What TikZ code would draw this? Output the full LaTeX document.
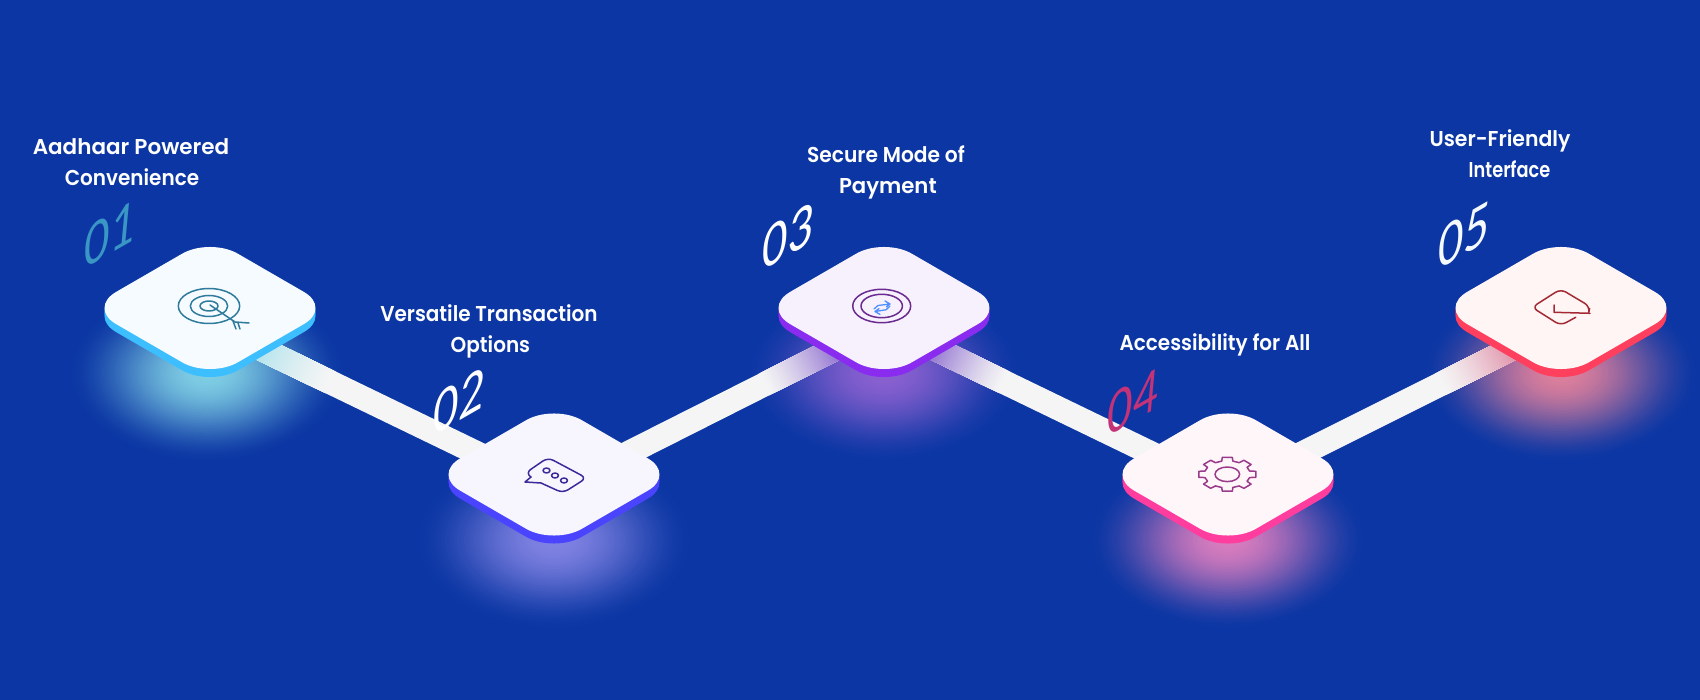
\documentclass[tikz,border=0pt]{standalone}
\usepackage{fontspec}
\usepackage{graphicx}
\usetikzlibrary{calc}
\newfontfamily\labfont{Poppins SemiBold}
\newfontfamily\numfont{Carlito}
\definecolor{bgc}{HTML}{0B36A4}
\definecolor{stripc}{HTML}{F5F5F5}
\definecolor{glowA}{HTML}{7FCEE4}
\definecolor{glowB}{HTML}{8082E2}
\definecolor{glowC}{HTML}{8A60D0}
\definecolor{glowD}{HTML}{D87CBE}
\definecolor{glowE}{HTML}{DD7F9C}
\definecolor{tintA}{HTML}{B0E3EC}
\definecolor{tintC}{HTML}{8F70D0}
\definecolor{tintE}{HTML}{DF90A8}
% soft glow as nested ellipses, from the outside in
\newcommand{\glow}[3]{%
  \foreach \i in {60,59,...,1}{%
    \pgfmathsetmacro{\tt}{\i/60}%
    \pgfmathsetmacro{\pc}{100*(1-\tt*\tt)*(1-\tt*\tt)}%
    \fill[color=#3!\pc!bgc] (#1,#2) ellipse ({142*\tt} and {92*\tt});}}
% tint of a connector near a pad: far to near, each piece reaching the pad
\newcommand{\tintstrip}[3]{%
  \foreach \i in {0,1,...,30}{%
    \pgfmathsetmacro{\dd}{135-2.7*\i}%
    \pgfmathsetmacro{\pc}{100*(\i/30)^1.3}%
    \draw[strip,draw=#3!\pc!stripc] ($(#1)!\dd pt!(#2)$) -- (#1);}}
\newcommand{\padpath}[3]{(#1-121.7,#2+#3) -- (#1,#2+#3-70.4) -- (#1+121.7,#2+#3) -- (#1,#2+#3+70.4) -- cycle}
\newcommand{\drawpad}[4]{%
  \foreach \o in {8,6,4,2}{\fill[padshape,#3] \padpath{#1}{#2}{\o};}
  \fill[padshape,#4] \padpath{#1}{#2}{0};}
\tikzset{
  padshape/.style={rounded corners=32pt},
  strip/.style={draw=stripc,line width=24pt,line cap=butt},
  label/.style={text=white,font=\labfont\fontsize{21.5}{31}\selectfont,align=center,inner sep=0pt},
  num/.style={font=\numfont\itshape\fontsize{62}{62}\selectfont,inner sep=0pt,xscale=.8,yslant=.46},
  icon/.style={line width=1.5pt,line join=round,line cap=round,fill=none}
}
\begin{document}
\begin{tikzpicture}[x=1pt,y=-1pt]
\useasboundingbox (0,0) rectangle (1700,700);
\fill[bgc] (0,0) rectangle (1700,700);
% anchors of the connectors
\coordinate (a1) at (210,324);
\coordinate (a2) at (554,490.5);
\coordinate (a3) at (884,324);
\coordinate (a4) at (1228,490.5);
\coordinate (a5) at (1561,324);
% glows
\glow{207}{373}{glowA}
\glow{554}{540}{glowB}
\glow{884}{373}{glowC}
\glow{1228}{540}{glowD}
\glow{1561}{373}{glowE}
% connectors
\draw[strip] (a1) -- (a2);
\draw[strip] (a2) -- (a3);
\draw[strip] (a3) -- (a4);
\draw[strip] (a4) -- (a5);
\tintstrip{a1}{a2}{tintA}
\tintstrip{a3}{a2}{tintC}
\tintstrip{a3}{a4}{tintC}
\tintstrip{a5}{a4}{tintE}
% pads
\drawpad{210}{308}{fill={rgb,255:red,61;green,190;blue,255}}{fill={rgb,255:red,246;green,251;blue,255}}
\drawpad{554}{474.5}{fill={rgb,255:red,75;green,68;blue,255}}{fill={rgb,255:red,247;green,246;blue,255}}
\drawpad{884}{308}{fill={rgb,255:red,138;green,43;blue,240}}{fill={rgb,255:red,246;green,241;blue,252}}
\drawpad{1228}{474.5}{fill={rgb,255:red,255;green,61;blue,159}}{fill={rgb,255:red,255;green,246;blue,250}}
\drawpad{1561}{308}{fill={rgb,255:red,255;green,63;blue,94}}{fill={rgb,255:red,255;green,245;blue,244}}
% icon 1: target
\definecolor{icA}{HTML}{2F7B9C}
\begin{scope}[icon,draw=icA]
  \draw (209,306) ellipse (30.7 and 17.5);
  \draw (209,306) ellipse (18.7 and 10.5);
  \draw (209,306) ellipse (9 and 5);
  \draw (210,305) -- (235,322) -- (249,323);
  \draw (233,321) -- (236,329);
  \draw (238,323) -- (240,329);
\end{scope}
% icon 2: chat bubble
\definecolor{icB}{HTML}{3A2A9A}
\begin{scope}[icon,draw=icB]
  \draw[rounded corners=6pt] (531,477) -- (525.5,473) -- (548,457.5) -- (586.5,478) -- (563,493) -- (541,483);
  \draw (531,477) -- (525,482) -- (541,483);
  \draw (546.5,470.5) ellipse (3.5 and 2.5);
  \draw (555,475.5) ellipse (3.5 and 2.5);
  \draw (564,480.5) ellipse (3.5 and 2.5);
\end{scope}
% icon 3: circles with arrows
\definecolor{icC}{HTML}{6A2A90}
\definecolor{icCb}{HTML}{4F8FFF}
\begin{scope}[icon,draw=icC]
  \draw (881.7,306) ellipse (29 and 16.7);
  \draw (881.7,306) ellipse (20.7 and 11.7);
\end{scope}
\begin{scope}[icon,draw=icCb,line width=1.3pt]
  \draw (874,309) -- (878,305.5) -- (890,304) (885,301) -- (890,304) -- (886.5,306.8);
  \draw (890,306) -- (886,309.8) -- (875,311.5) (879,308.6) -- (875,311.5) -- (880,314.4);
\end{scope}
% icon 4: gear
\definecolor{icD}{HTML}{9A3A8A}
\begin{scope}[icon,draw=icD]
  \draw (1227.3,474.3) ellipse (12.3 and 7.3);
  \begin{scope}[shift={(1227.3,474.3)},yscale=.59]
    \draw (-14:23) \foreach \a in {0,45,...,315}{ -- (\a-14:23) -- (\a-10:29) -- (\a+10:29) -- (\a+14:23)} -- cycle;
  \end{scope}
\end{scope}
% icon 5: open envelope with tick
\definecolor{icE}{HTML}{A32A35}
\begin{scope}[icon,draw=icE]
  \draw[rounded corners=6pt] (1575.7,317.3) -- (1560.7,325.5) -- (1532,307.3) -- (1560.7,289) -- (1590,306.5) -- (1589.6,308.5);
  \draw (1554,305) -- (1554,312.3) -- (1590,313.3);
\end{scope}
% labels
\node[label] (l1) at (131,162.5) {Aadhaar Powered\\\hspace*{2pt}\scalebox{.93}[1]{Convenience}};
\node[label,xscale=.93] (l2) at (489,331) {Versatile Transaction\\\hspace*{3pt}Options};
\node[label,xscale=.94] (l3) at (886,172) {Secure Mode of\\\hspace*{4pt}\scalebox{1.05}[1]{Payment}};
\node[label,xscale=.93] (l4) at (1215,345) {Accessibility for All};
\node[label,xscale=.95] (l5) at (1500,153.5) {User-Friendly\\\hspace*{20pt}\scalebox{.87}[1]{Interface}};
% numbers
\node[num,text={rgb,255:red,58;green,150;blue,196}] (n1) at (109,235) {01};
\node[num,text=white] (n2) at (458,402) {02};
\node[num,text=white] (n3) at (787,237) {03};
\node[num,text={rgb,255:red,196;green,50;blue,119}] (n4) at (1132,403) {04};
\node[num,text={rgb,255:red,245;green,250;blue,255}] (n5) at (1463,236) {05};
\end{tikzpicture}
\end{document}
